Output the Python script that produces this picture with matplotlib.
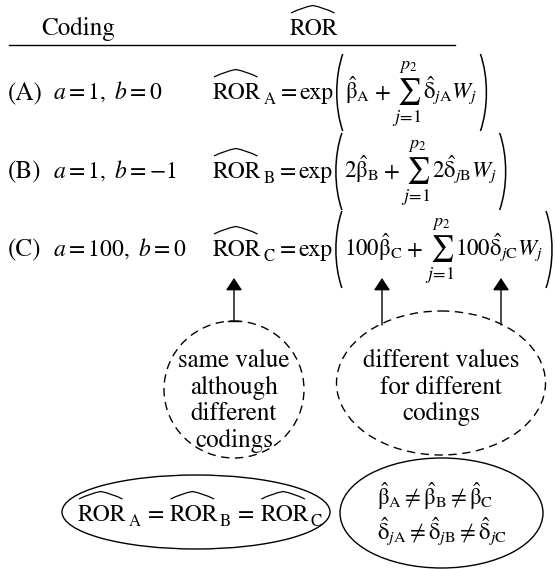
import matplotlib
matplotlib.use("Agg")
import matplotlib.pyplot as plt
from matplotlib.patches import Ellipse, FancyArrowPatch, PathPatch
from matplotlib.path import Path

plt.rcParams["font.family"] = "STIXGeneral"
plt.rcParams["mathtext.fontset"] = "stix"

# table content
codings = ["(A)", "(B)", "(C)"]
ab_values = [r"$a = 1,\ b = 0$", r"$a = 1,\ b = -1$", r"$a = 100,\ b = 0$"]
subs = ["A", "B", "C"]
factors = ["", "2", "100"]

left_notes = ["same value", "although", "different", "codings"]
right_notes = ["different values", "for different", "codings"]

W, H = 555, 569
fig = plt.figure(figsize=(W / 100, H / 100), dpi=100)
ax = fig.add_axes([0, 0, 1, 1])
ax.set_xlim(0, W)
ax.set_ylim(H, 0)
ax.axis("off")
renderer = fig.canvas.get_renderer()

fs_text = 18
fs = 17
fs_math = 16.5
fs_sum = 18.5
fs_sub = 12


def put(x, y, s, size, ha="left"):
    t = ax.text(x, y, s, fontsize=size, va="baseline", ha=ha)
    return t.get_window_extent(renderer).x1


def hat(x0, x1, y):
    # wide hat: two slightly bowed strokes meeting at the top
    mid = (x0 + x1) / 2
    verts = [(x0, y - 22), (x0 + 0.25 * (x1 - x0), y - 27.5), (mid, y - 29.5),
             (x0 + 0.75 * (x1 - x0), y - 27.5), (x1, y - 22)]
    codes = [Path.MOVETO, Path.CURVE3, Path.CURVE3, Path.CURVE3, Path.CURVE3]
    ax.add_patch(PathPatch(Path(verts, codes), fill=False, lw=0.9, color="black"))


def ror(x, y, s=None):
    x1 = put(x, y, "ROR", fs)
    hat(x + 1, x1 - 4, y)
    if s is None:
        return x1
    return put(x1 + 2, y + 5, s, fs_sub)


def paren(x, y, right=False):
    top, bot = y - 45, y + 32
    h = bot - top
    if right:
        verts = [(x, top), (x + 8, top + 0.3 * h), (x + 8, bot - 0.3 * h), (x, bot)]
    else:
        verts = [(x + 7, top), (x - 1, top + 0.3 * h), (x - 1, bot - 0.3 * h), (x + 7, bot)]
    codes = [Path.MOVETO, Path.CURVE4, Path.CURVE4, Path.CURVE4]
    ax.add_patch(PathPatch(Path(verts, codes), fill=False, lw=1.1, color="black"))
    return x + 7


ax.text(78, 35, "Coding", fontsize=fs_text, ha="center", va="baseline")
ror(290, 35)
ax.plot([9, 455], [45, 45], color="black", lw=1)

row_y = [99, 178, 256]
for y, c, abv, s, f in zip(row_y, codings, ab_values, subs, factors):
    put(8, y, c, fs_text)
    put(53, y, abv, fs)
    x = ror(213, y, s)
    x = put(x + 5, y, "=", fs)
    x = put(x + 3, y, "exp", fs)
    x = paren(x + 2, y)
    x = put(x + 2, y, r"$%s\hat{\mathrm{\beta}}_{\mathrm{%s}}$" % (f, s), fs_math)
    x = put(x + 4, y, r"$+$", fs_math)
    x = put(x + 2, y, r"$\sum_{j\!=\!1}^{p_2}$", fs_sum)
    x = put(x + 1, y, r"$%s\hat{\mathrm{\delta}}_{j\mathrm{%s}}W_j$" % (f, s), fs_math)
    paren(min(x + 3, W - 9), y, right=True)

# arrows from the notes up to the row C formula
arrow_x = [234, 382, 501]
arrow_base = [321, 325, 325]
for x, yb in zip(arrow_x, arrow_base):
    ax.add_patch(FancyArrowPatch((x, yb), (x, 278), arrowstyle="-|>,head_length=7.5,head_width=5",
                                 mutation_scale=1, color="black", lw=1, shrinkA=0, shrinkB=0))
ax.plot([228, 240], [321, 321], color="black", lw=1)

ax.add_patch(Ellipse((234, 389.5), 140, 137, fill=False, ls=(0, (6, 4)), lw=1))
ax.add_patch(Ellipse((441, 383), 209, 144, fill=False, ls=(0, (6, 4)), lw=1))
for i, t in enumerate(left_notes):
    put(234, 367 + 26.7 * i, t, fs_text, ha="center")
for i, t in enumerate(right_notes):
    put(441, 367 + 26.7 * i, t, fs_text, ha="center")

ax.add_patch(Ellipse((196, 512), 268, 74, fill=False, lw=1))
ax.add_patch(Ellipse((441.5, 513), 203, 110, fill=False, lw=1))
x = 78
for i, s in enumerate(subs):
    x = ror(x, 521, s)
    if i < len(subs) - 1:
        x = put(x + 7, 521, "=", fs) + 6
ax.text(377, 505, r"$\hat{\mathrm{\beta}}_{\mathrm{A}} \neq \hat{\mathrm{\beta}}_{\mathrm{B}}"
        r" \neq \hat{\mathrm{\beta}}_{\mathrm{C}}$", fontsize=fs_math, va="baseline")
ax.text(377, 540, r"$\hat{\mathrm{\delta}}_{j\mathrm{A}} \neq \hat{\mathrm{\delta}}_{j\mathrm{B}}"
        r" \neq \hat{\mathrm{\delta}}_{j\mathrm{C}}$", fontsize=fs_math, va="baseline")

fig.savefig("out.png", dpi=100)
